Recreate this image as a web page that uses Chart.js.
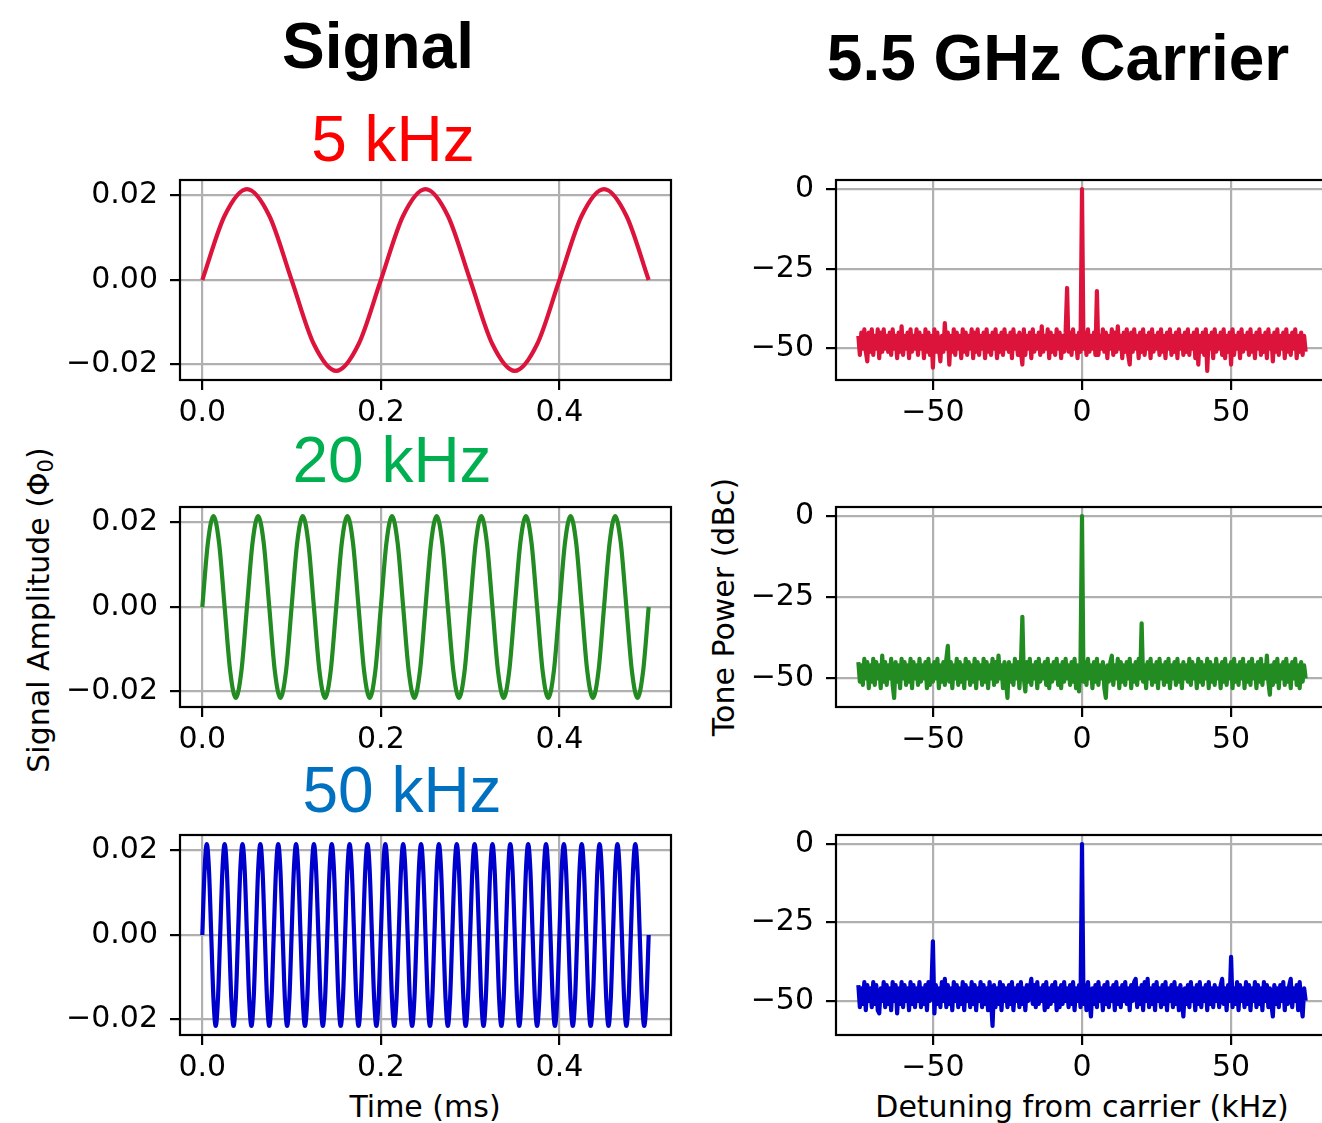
<!DOCTYPE html>
<html>
<head>
<meta charset="utf-8">
<script src="https://cdn.jsdelivr.net/npm/chart.js@4.4.1/dist/chart.umd.min.js"></script>
<style>
  body { margin: 0; width: 1322px; height: 1123px; overflow: hidden; background: #fff; position: relative; }
  canvas { position: absolute; }
  .t { position: absolute; white-space: nowrap; line-height: 1; transform: translateX(-50%); color: #000; }
  .head { font-family: "Liberation Sans", Arial, sans-serif; font-size: 64px; }
  .bold { font-weight: bold; }
  .dv { font-family: "DejaVu Sans", sans-serif; font-size: 30px; }
  .rot { transform: translate(-50%, -50%) rotate(-90deg); }
  sub { font-size: 70%; line-height: 0; vertical-align: -0.2em; }
</style>
</head>
<body>
<div class="t head bold" style="left:378px;top:14px">Signal</div>
<div class="t head bold" style="left:1058px;top:26px">5.5 GHz Carrier</div>
<div class="t head" style="left:393px;top:107px;color:#ff0000">5 kHz</div>
<div class="t head" style="left:392px;top:428px;color:#00b050">20 kHz</div>
<div class="t head" style="left:402px;top:758px;color:#0070c0">50 kHz</div>
<div class="t dv" style="left:425px;top:1092px">Time (ms)</div>
<div class="t dv" style="left:1082px;top:1092px">Detuning from carrier (kHz)</div>
<div class="t dv rot" style="left:39px;top:610px">Signal Amplitude (Φ<sub>0</sub>)</div>
<div class="t dv rot" style="left:724px;top:607px">Tone Power (dBc)</div>

<canvas id="sig5" width="620" height="270" style="left:60px;top:170px"></canvas>
<canvas id="sig20" width="620" height="270" style="left:60px;top:497px"></canvas>
<canvas id="sig50" width="620" height="270" style="left:60px;top:825px"></canvas>
<canvas id="car5" width="606" height="270" style="left:726px;top:170px"></canvas>
<canvas id="car20" width="606" height="270" style="left:726px;top:497px"></canvas>
<canvas id="car50" width="606" height="270" style="left:726px;top:825px"></canvas>

<script>
// tick values and labels
const timeTicks = [0, 0.2, 0.4];
const timeLabels = ["0.0", "0.2", "0.4"];
const ampTicks = [-0.02, 0, 0.02];
const ampLabels = ["\u22120.02", "0.00", "0.02"];
const detuneTicks = [-50, 0, 50];
const detuneLabels = ["\u221250", "0", "50"];
const powerTicks = [-50, -25, 0];
const powerLabels = ["\u221250", "\u221225", "0"];

// signal samples (time in ms, Phi_0)
const dt5k = 0.025;
const sig5k = [
  0, 0.0152, 0.0215, 0.0152, 0, -0.0152, -0.0215, -0.0152,
  0, 0.0152, 0.0215, 0.0152, 0, -0.0152, -0.0215, -0.0152,
  0, 0.0152, 0.0215, 0.0152, 0
];

const dt20k = 0.00625;
const sig20k = [
  0, 0.0152, 0.0215, 0.0152, 0, -0.0152, -0.0215, -0.0152,
  0, 0.0152, 0.0215, 0.0152, 0, -0.0152, -0.0215, -0.0152,
  0, 0.0152, 0.0215, 0.0152, 0, -0.0152, -0.0215, -0.0152,
  0, 0.0152, 0.0215, 0.0152, 0, -0.0152, -0.0215, -0.0152,
  0, 0.0152, 0.0215, 0.0152, 0, -0.0152, -0.0215, -0.0152,
  0, 0.0152, 0.0215, 0.0152, 0, -0.0152, -0.0215, -0.0152,
  0, 0.0152, 0.0215, 0.0152, 0, -0.0152, -0.0215, -0.0152,
  0, 0.0152, 0.0215, 0.0152, 0, -0.0152, -0.0215, -0.0152,
  0, 0.0152, 0.0215, 0.0152, 0, -0.0152, -0.0215, -0.0152,
  0, 0.0152, 0.0215, 0.0152, 0, -0.0152, -0.0215, -0.0152,
  0
];

const dt50k = 0.0025;
const sig50k = [
  0, 0.0152, 0.0215, 0.0152, 0, -0.0152, -0.0215, -0.0152,
  0, 0.0152, 0.0215, 0.0152, 0, -0.0152, -0.0215, -0.0152,
  0, 0.0152, 0.0215, 0.0152, 0, -0.0152, -0.0215, -0.0152,
  0, 0.0152, 0.0215, 0.0152, 0, -0.0152, -0.0215, -0.0152,
  0, 0.0152, 0.0215, 0.0152, 0, -0.0152, -0.0215, -0.0152,
  0, 0.0152, 0.0215, 0.0152, 0, -0.0152, -0.0215, -0.0152,
  0, 0.0152, 0.0215, 0.0152, 0, -0.0152, -0.0215, -0.0152,
  0, 0.0152, 0.0215, 0.0152, 0, -0.0152, -0.0215, -0.0152,
  0, 0.0152, 0.0215, 0.0152, 0, -0.0152, -0.0215, -0.0152,
  0, 0.0152, 0.0215, 0.0152, 0, -0.0152, -0.0215, -0.0152,
  0, 0.0152, 0.0215, 0.0152, 0, -0.0152, -0.0215, -0.0152,
  0, 0.0152, 0.0215, 0.0152, 0, -0.0152, -0.0215, -0.0152,
  0, 0.0152, 0.0215, 0.0152, 0, -0.0152, -0.0215, -0.0152,
  0, 0.0152, 0.0215, 0.0152, 0, -0.0152, -0.0215, -0.0152,
  0, 0.0152, 0.0215, 0.0152, 0, -0.0152, -0.0215, -0.0152,
  0, 0.0152, 0.0215, 0.0152, 0, -0.0152, -0.0215, -0.0152,
  0, 0.0152, 0.0215, 0.0152, 0, -0.0152, -0.0215, -0.0152,
  0, 0.0152, 0.0215, 0.0152, 0, -0.0152, -0.0215, -0.0152,
  0, 0.0152, 0.0215, 0.0152, 0, -0.0152, -0.0215, -0.0152,
  0, 0.0152, 0.0215, 0.0152, 0, -0.0152, -0.0215, -0.0152,
  0, 0.0152, 0.0215, 0.0152, 0, -0.0152, -0.0215, -0.0152,
  0, 0.0152, 0.0215, 0.0152, 0, -0.0152, -0.0215, -0.0152,
  0, 0.0152, 0.0215, 0.0152, 0, -0.0152, -0.0215, -0.0152,
  0, 0.0152, 0.0215, 0.0152, 0, -0.0152, -0.0215, -0.0152,
  0, 0.0152, 0.0215, 0.0152, 0, -0.0152, -0.0215, -0.0152,
  0
];

// carrier spectra, dBc, every 0.5 kHz from -75 to +75 (one row = 10 kHz)
const detuneStart = -75;
const detuneStep = 0.5;
const car5k = [
  -46,-52,-45,-50,-44,-51,-54,-45,-51,-44,-52,-46,-50,-44,-53,-45,-51,-44,-50,-46,
  -51,-45,-52,-44,-50,-46,-53,-45,-51,-43,-52,-46,-50,-45,-53,-44,-51,-46,-50,-44,
  -52,-45,-50,-46,-53,-44,-51,-45,-52,-46,-56,-44,-51,-45,-50,-54,-46,-51,-42,-50,
  -45,-55,-46,-51,-44,-52,-45,-50,-46,-53,-44,-51,-45,-52,-46,-50,-44,-53,-45,-51,
  -44,-52,-46,-50,-45,-53,-44,-51,-46,-52,-45,-50,-44,-53,-46,-51,-45,-52,-44,-50,
  -46,-51,-45,-53,-44,-50,-46,-52,-45,-51,-55,-44,-52,-46,-50,-45,-53,-44,-51,-46,
  -50,-45,-52,-43,-51,-46,-50,-44,-53,-45,-51,-46,-52,-44,-50,-45,-53,-46,-51,-45,
  -31,-51,-45,-52,-44,-50,-46,-53,-45,-51,0,-50,-45,-52,-44,-51,-46,-50,-45,-52,
  -32,-52,-46,-50,-44,-51,-45,-53,-46,-50,-44,-52,-45,-51,-43,-50,-46,-53,-45,-51,
  -44,-52,-55,-45,-51,-44,-50,-46,-53,-45,-51,-44,-52,-46,-50,-45,-53,-44,-51,-46,
  -50,-45,-52,-44,-51,-46,-53,-45,-50,-44,-52,-46,-51,-45,-53,-44,-50,-46,-52,-45,
  -51,-44,-52,-46,-50,-45,-53,-44,-55,-46,-51,-45,-52,-44,-57,-46,-50,-45,-53,-44,
  -51,-46,-50,-45,-52,-44,-53,-46,-51,-45,-55,-44,-52,-46,-50,-45,-53,-44,-51,-46,
  -50,-45,-52,-44,-51,-46,-53,-45,-50,-44,-52,-46,-51,-45,-53,-44,-50,-46,-54,-45,
  -51,-44,-52,-46,-50,-45,-53,-44,-51,-46,-52,-45,-50,-44,-53,-46,-51,-45,-52,-46,
  -51
];
const car20k = [
  -45,-51,-46,-52,-44,-50,-45,-53,-46,-51,-44,-52,-45,-50,-46,-53,-43,-51,-45,-52,
  -46,-50,-44,-52,-56,-45,-51,-46,-53,-44,-50,-45,-52,-46,-51,-44,-53,-45,-50,-46,
  -52,-44,-51,-46,-50,-45,-53,-44,-52,-46,-51,-45,-50,-44,-53,-46,-51,-45,-52,-44,
  -40,-51,-45,-53,-46,-50,-44,-52,-45,-51,-46,-53,-44,-50,-45,-52,-46,-51,-44,-53,
  -45,-50,-46,-52,-44,-51,-45,-53,-46,-50,-44,-52,-45,-51,-43,-50,-46,-53,-45,-51,
  -56,-45,-51,-46,-52,-44,-50,-45,-53,-46,-31,-50,-54,-45,-51,-44,-52,-46,-50,-45,
  -53,-44,-51,-46,-50,-45,-52,-44,-53,-46,-51,-45,-50,-44,-52,-46,-53,-45,-51,-44,
  -50,-46,-52,-45,-51,-44,-53,-46,-54,-45,0,-51,-45,-52,-44,-50,-46,-53,-45,-51,
  -44,-52,-46,-50,-45,-53,-56,-46,-51,-45,-43,-52,-46,-50,-44,-53,-45,-51,-46,-52,
  -45,-50,-44,-53,-46,-51,-45,-52,-44,-50,-33,-51,-46,-53,-45,-50,-44,-52,-46,-51,
  -45,-53,-44,-50,-46,-52,-45,-51,-44,-53,-46,-50,-45,-52,-44,-51,-46,-53,-45,-50,
  -46,-51,-44,-52,-45,-50,-46,-53,-44,-51,-45,-52,-46,-50,-44,-53,-45,-51,-46,-52,
  -44,-50,-46,-53,-45,-51,-44,-52,-46,-50,-45,-53,-44,-51,-46,-52,-45,-50,-44,-53,
  -46,-51,-45,-52,-44,-50,-46,-53,-45,-51,-44,-52,-46,-50,-43,-51,-55,-46,-52,-45,
  -51,-44,-53,-46,-50,-45,-52,-44,-51,-46,-53,-45,-50,-44,-52,-46,-53,-45,-51,-46,
  -50
];
const car50k = [
  -45,-52,-46,-51,-44,-53,-45,-50,-46,-52,-44,-51,-45,-53,-54,-46,-50,-44,-52,-45,
  -51,-46,-53,-44,-50,-45,-54,-46,-51,-44,-52,-45,-50,-46,-53,-44,-51,-45,-52,-46,
  -50,-44,-52,-46,-51,-45,-53,-44,-50,-46,-31,-54,-45,-51,-46,-52,-44,-50,-43,-52,
  -45,-51,-46,-53,-44,-50,-45,-52,-46,-51,-44,-53,-45,-50,-46,-52,-44,-51,-45,-53,
  -46,-50,-44,-52,-45,-51,-46,-53,-44,-50,-58,-45,-52,-46,-51,-44,-53,-45,-50,-46,
  -52,-45,-51,-44,-53,-46,-50,-45,-52,-44,-51,-46,-53,-45,-50,-46,-43,-51,-45,-52,
  -44,-51,-46,-50,-45,-53,-44,-52,-46,-51,-45,-50,-44,-53,-46,-52,-45,-51,-44,-50,
  -46,-52,-45,-51,-44,-53,-46,-50,-45,-52,0,-51,-45,-53,-44,-50,-55,-46,-51,-45,
  -52,-44,-50,-46,-53,-45,-51,-44,-52,-46,-50,-45,-53,-44,-51,-46,-52,-45,-50,-44,
  -51,-46,-53,-45,-50,-44,-43,-52,-46,-51,-45,-53,-44,-50,-43,-52,-46,-51,-45,-53,
  -44,-50,-46,-52,-45,-51,-44,-53,-46,-50,-45,-52,-44,-51,-46,-53,-45,-50,-55,-46,
  -51,-45,-52,-44,-50,-46,-53,-45,-51,-44,-52,-46,-50,-45,-53,-44,-51,-46,-52,-45,
  -50,-46,-52,-45,-43,-51,-46,-53,-45,-50,-36,-52,-46,-51,-44,-53,-45,-50,-46,-52,
  -44,-51,-45,-53,-46,-50,-44,-52,-45,-51,-46,-53,-44,-50,-45,-52,-46,-51,-55,-45,
  -51,-46,-52,-45,-50,-44,-53,-46,-51,-45,-43,-52,-46,-50,-45,-53,-44,-51,-55,-46,
  -50
];

Chart.defaults.font.family = "DejaVu Sans";
Chart.defaults.font.size = 30;
Chart.defaults.color = "#000";

// black box round the plot area, drawn over the data like matplotlib spines
const frame = {
  id: "frame",
  afterDatasetsDraw(chart) {
    const a = chart.chartArea, ctx = chart.ctx;
    ctx.save();
    ctx.strokeStyle = "#000";
    ctx.lineWidth = 2.2;
    ctx.strokeRect(a.left, a.top, a.right - a.left, a.bottom - a.top);
    ctx.restore();
  },
};

function toPoints(values, start, step) {
  return values.map((v, i) => ({ x: start + i * step, y: v }));
}

function axis(min, max, ticks, labels, isY, size) {
  return {
    type: "linear",
    min: min,
    max: max,
    afterBuildTicks: (s) => { s.ticks = ticks.map((v) => ({ value: v })); },
    afterFit: (s) => {
      if (isY) s.width = size; else s.height = size;
      // keep the plot box where it is, labels may hang over
      s.paddingTop = 0; s.paddingBottom = 0; s.paddingLeft = 0; s.paddingRight = 0;
    },
    ticks: {
      autoSkip: false,
      maxRotation: 0,
      padding: isY ? 12 : 5,
      callback: (v) => labels[ticks.indexOf(v)],
    },
    grid: { color: "#b0b0b0", lineWidth: 2.2, tickColor: "#000", tickLength: 10, tickWidth: 2.2 },
    border: { display: false },
  };
}

function draw(id, points, color, xAx, yAx, rightPad, smooth) {
  new Chart(document.getElementById(id), {
    type: "line",
    data: {
      datasets: [{
        data: points,
        borderColor: color,
        borderWidth: 4.2,
        borderJoinStyle: "round",
        pointRadius: 0,
        tension: smooth ? 0.4 : 0,
        cubicInterpolationMode: smooth ? "monotone" : "default",
      }],
    },
    options: {
      responsive: false,
      animation: false,
      layout: { padding: { top: 10, right: rightPad, left: 0, bottom: 0 } },
      plugins: { legend: { display: false }, tooltip: { enabled: false } },
      scales: { x: xAx, y: yAx },
    },
    plugins: [frame],
  });
}

const ampMax = 0.02365;
const timeAxis = () => axis(-0.025, 0.525, timeTicks, timeLabels, false, 60);
const ampAxis = () => axis(-ampMax, ampMax, ampTicks, ampLabels, true, 120);
const detuneAxis = () => axis(-82.5, 82.5, detuneTicks, detuneLabels, false, 60);

draw("sig5", toPoints(sig5k, 0, dt5k), "#dc143c", timeAxis(), ampAxis(), 9, true);
draw("sig20", toPoints(sig20k, 0, dt20k), "#228b22", timeAxis(), ampAxis(), 9, true);
draw("sig50", toPoints(sig50k, 0, dt50k), "#0000cd", timeAxis(), ampAxis(), 9, true);

draw("car5", toPoints(car5k, detuneStart, detuneStep), "#dc143c", detuneAxis(),
  axis(-59.85, 2.85, powerTicks, powerLabels, true, 110), 4, false);
draw("car20", toPoints(car20k, detuneStart, detuneStep), "#228b22", detuneAxis(),
  axis(-58.8, 2.8, powerTicks, powerLabels, true, 110), 4, false);
draw("car50", toPoints(car50k, detuneStart, detuneStep), "#0000cd", detuneAxis(),
  axis(-60.9, 2.9, powerTicks, powerLabels, true, 110), 4, false);
</script>
</body>
</html>
